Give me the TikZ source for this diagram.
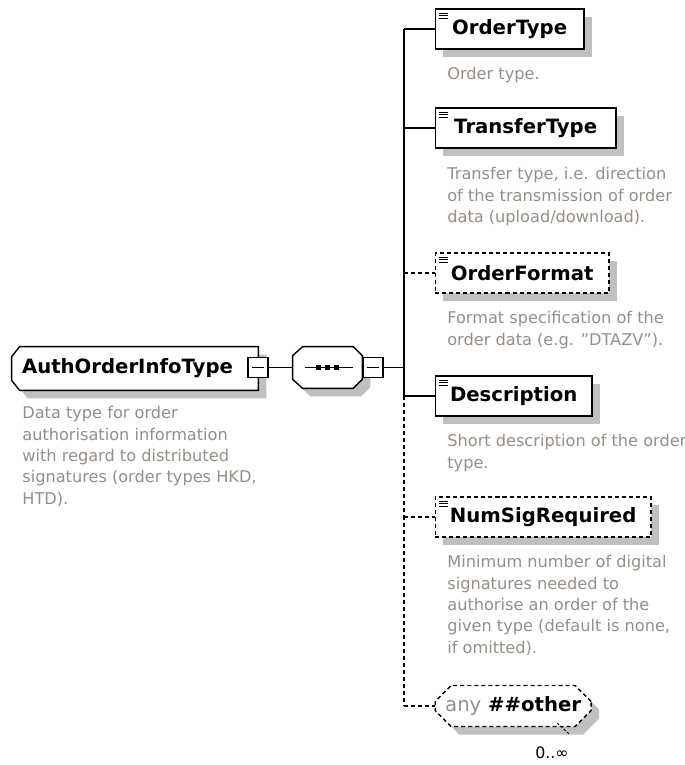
\documentclass[tikz,border=0pt]{standalone}
\usepackage{fontspec}
\setmainfont{DejaVu Sans}
\usetikzlibrary{shapes.misc,shadows,backgrounds}

\definecolor{descgray}{RGB}{150,142,135}
\definecolor{shadowgray}{RGB}{192,192,192}

\tikzset{
  lineblack/.style={line width=0.8pt},
  optline/.style={line width=0.8pt, dash pattern=on 2.3pt off 1.7pt},
  boxshadow/.style={drop shadow={shadow xshift=0.16cm, shadow yshift=-0.16cm, fill=shadowgray, opacity=1}},
  outline/.style={lineblack, fill=white, boxshadow},
  element/.style={draw, line width=0.8pt, fill=white, boxshadow, anchor=west,
    minimum height=0.8cm, inner sep=0pt,
    font=\fontsize{11.2}{13}\selectfont\bfseries,
    path picture={\foreach \k in {0,1,2}
      \draw[solid, line width=0.5pt] ([shift={(0.08cm,-0.08cm-\k*0.05cm)}]path picture bounding box.north west) -- ++(0.17cm,0);}},
  optelement/.style={element, dash pattern=on 2.3pt off 1.7pt},
  ctype/.style={inner xsep=0.2cm, inner ysep=0pt, minimum width=4.92cm, minimum height=0.86cm,
    text width=4.52cm, align=left, font=\fontsize{11.2}{13}\selectfont\bfseries},
  compositor/.style={inner sep=0pt, minimum width=1.38cm, minimum height=0.82cm},
  anybox/.style={draw, fill=white, boxshadow, dash pattern=on 2.3pt off 1.7pt, line width=0.8pt,
    chamfered rectangle, chamfered rectangle xsep=0.16cm, chamfered rectangle ysep=0.16cm,
    inner sep=0pt, minimum width=3.12cm, minimum height=0.82cm, anchor=west,
    font=\fontsize{11.2}{13}\selectfont\bfseries},
  minusbox/.style={draw, line width=0.8pt, fill=white, minimum size=0.4cm, inner sep=0pt,
    path picture={\draw[solid, line width=0.8pt] ([xshift=0.08cm]path picture bounding box.west) -- ([xshift=-0.08cm]path picture bounding box.east);}},
  desc/.style={anchor=north west, inner sep=0pt, align=left, text=descgray,
    font=\fontsize{9.2}{12.2}\selectfont}
}

\begin{document}
\begin{tikzpicture}[x=0.02cm,y=-0.02cm]
\useasboundingbox (0,0) rectangle (685,765);

% Root type
\node[ctype] (auth) at (135,368.5) {AuthOrderInfoType};
\begin{pgfonlayer}{background}
  \draw[outline] ([xshift=0.16cm]auth.north west) -- (auth.north east) -- (auth.south east)
    -- ([xshift=0.16cm]auth.south west) -- ([yshift=0.2cm]auth.south west)
    -- ([yshift=-0.2cm]auth.north west) -- cycle;
\end{pgfonlayer}
\node[minusbox] (authm) at (258,367.5) {};
\node[desc] (authd) at (22,406) {Data type for order\\authorisation information\\with regard to distributed\\signatures (order types HKD,\\HTD).};

% Sequence
\node[compositor] (seq) at (327.5,367.5) {};
\begin{pgfonlayer}{background}
  \draw[outline] ([xshift=0.2cm]seq.north west) -- ([xshift=-0.18cm]seq.north east)
    -- ([yshift=-0.18cm]seq.north east) -- ([yshift=0.18cm]seq.south east)
    -- ([xshift=-0.18cm]seq.south east) -- ([xshift=0.2cm]seq.south west)
    -- ([yshift=0.18cm]seq.south west) -- ([yshift=-0.18cm]seq.north west) -- cycle;
\end{pgfonlayer}
\draw[lineblack] ([xshift=0.24cm]seq.west) -- ([xshift=-0.18cm]seq.east);
\foreach \dx in {-9,0,9}
  \fill ([xshift=\dx*0.02cm]seq.center) ++(-2.5,-2.5) rectangle ++(5,5);
\node[minusbox] (seqm) at (373,367.5) {};
\draw[lineblack] (authm) -- (seq);
\coordinate (trunk) at (404,367.5);
\draw[lineblack] (seqm) -- (trunk);

% Children
\node[element, minimum width=2.98cm] (ordertype) at (434.5,29) {OrderType};
\node[desc] (ordertyped) at (447,67) {Order type.};

\node[element, minimum width=3.62cm] (transfertype) at (434.5,128) {TransferType};
\node[desc] (transfertyped) at (447,167) {Transfer type, i.e. direction\\of the transmission of order\\data (upload/download).};

\node[optelement, minimum width=3.48cm] (orderformat) at (434.5,273) {OrderFormat};
\node[desc] (orderformatd) at (447,311) {Format specification of the\\order data (e.g. "DTAZV").};

\node[element, minimum width=3.14cm] (description) at (434.5,396) {Description};
\node[desc] (descriptiond) at (447,434) {Short description of the order\\type.};

\node[optelement, minimum width=4.32cm] (numsig) at (434.5,517) {NumSigRequired};
\node[desc] (numsigd) at (447,555) {Minimum number of digital\\signatures needed to\\authorise an order of the\\given type (default is none,\\if omitted).};

\node[anybox] (anyother) at (434.5,706) {{\mdseries\color{descgray}any}\ \#\#other};
\node[font=\fontsize{9}{11}\selectfont] (mult) at (552,753) {0..∞};
\draw[line width=0.5pt, dash pattern=on 1.5pt off 1pt] ([xshift=-0.12cm,yshift=0.14cm]mult.north east) -- ([xshift=-0.38cm,yshift=0.38cm]mult.north east);

% Trunk and branches
\draw[lineblack] (trunk |- ordertype.west) -- (trunk |- description.west);
\draw[optline] (trunk |- description.west) -- (trunk |- anyother.west);
\draw[lineblack] (trunk |- ordertype.west) -- (ordertype.west);
\draw[lineblack] (trunk |- transfertype.west) -- (transfertype.west);
\draw[optline] (trunk |- orderformat.west) -- (orderformat.west);
\draw[lineblack] (trunk |- description.west) -- (description.west);
\draw[optline] (trunk |- numsig.west) -- (numsig.west);
\draw[optline] (trunk |- anyother.west) -- (anyother.west);

\end{tikzpicture}
\end{document}
